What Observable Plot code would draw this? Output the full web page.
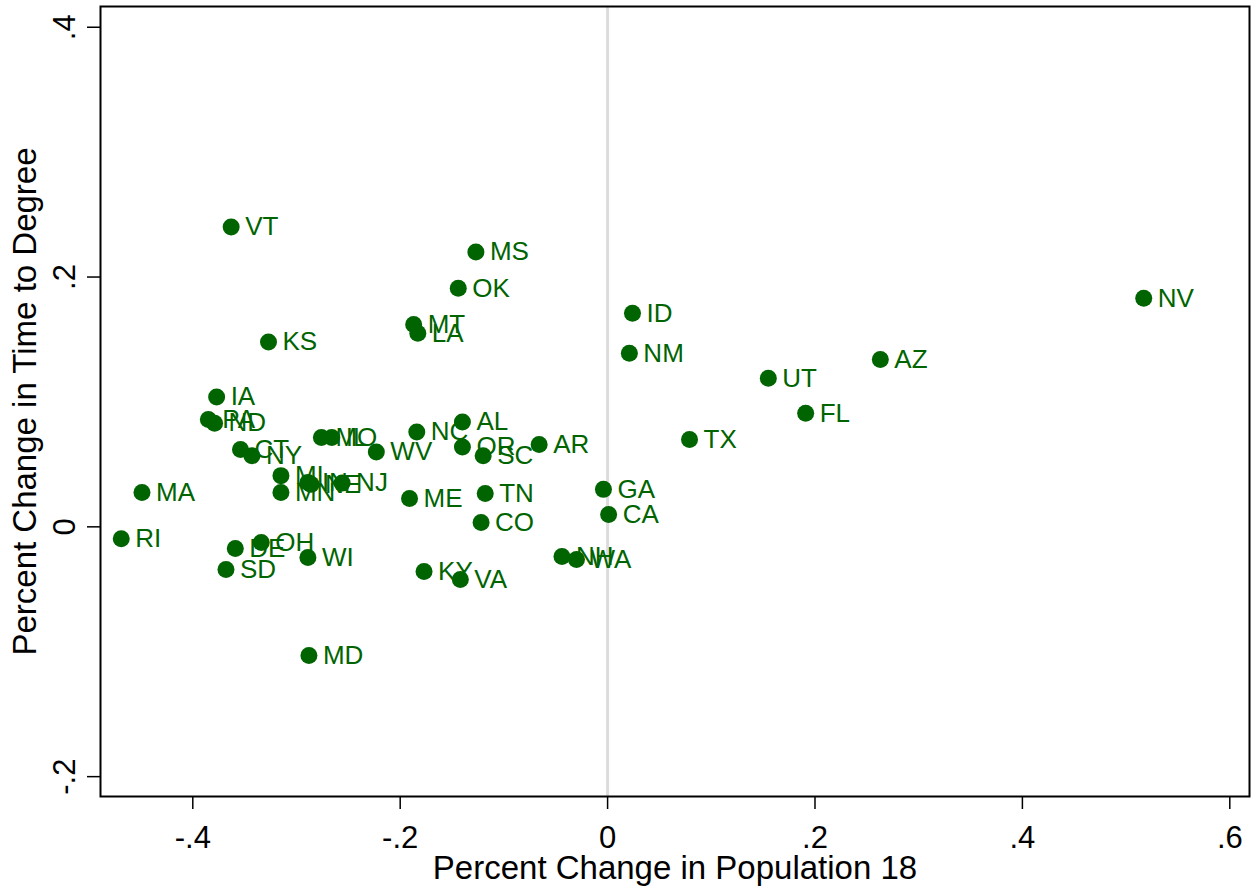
<!DOCTYPE html>
<html>
<head>
<meta charset="utf-8">
<script src="https://cdn.jsdelivr.net/npm/d3@7"></script>
<script src="https://cdn.jsdelivr.net/npm/@observablehq/plot@0.6"></script>
<style>
  html, body { margin: 0; padding: 0; background: #fff; }
  #chart svg { display: block; }
</style>
</head>
<body>
<div id="chart"></div>
<script>
const states = ["VT","MS","OK","MT","LA","KS","ID","NM","NV","AZ","UT","FL","TX","AR","AL","NC","OR","SC","IA","PA","ND","CT","NY","MO","IL","WV","MI","MN","IN","NE","NJ","MA","RI","DE","OH","SD","WI","MD","KY","VA","ME","TN","CO","GA","CA","NH","WA"];
const popChange = [-0.363,-0.127,-0.144,-0.187,-0.183,-0.327,0.024,0.021,0.517,0.263,0.155,0.191,0.079,-0.066,-0.140,-0.184,-0.140,-0.120,-0.377,-0.385,-0.379,-0.354,-0.343,-0.276,-0.266,-0.223,-0.315,-0.315,-0.289,-0.286,-0.256,-0.449,-0.469,-0.359,-0.334,-0.368,-0.289,-0.288,-0.177,-0.142,-0.191,-0.118,-0.122,-0.004,0.001,-0.044,-0.030];
const ttdChange = [0.240,0.220,0.191,0.162,0.155,0.148,0.171,0.139,0.183,0.134,0.119,0.091,0.070,0.066,0.084,0.076,0.064,0.057,0.104,0.086,0.083,0.062,0.057,0.0715,0.0715,0.060,0.041,0.0275,0.0355,0.034,0.035,0.0275,-0.0095,-0.0174,-0.0126,-0.0342,-0.0245,-0.103,-0.0358,-0.0422,0.0227,0.0267,0.0034,0.030,0.0098,-0.0238,-0.0262];
const xTicks = [-0.4, -0.2, 0, 0.2, 0.4, 0.6];
const yTicks = [-0.2, 0, 0.2, 0.4];
const xTitle = "Percent Change in Population 18";
const yTitle = "Percent Change in Time to Degree";

const data = states.map((s, i) => ({state: s, x: popChange[i], y: ttdChange[i]}));
const fmt = d => d === 0 ? "0" : String(d).replace("0.", ".");
const green = "#006400";

const chart = Plot.plot({
  width: 1257,
  height: 890,
  marginLeft: 100,
  marginRight: 8,
  marginTop: 6,
  marginBottom: 94,
  style: {fontFamily: "'Liberation Sans', Arial, sans-serif", background: "#fff", color: "#000"},
  x: {domain: [-0.489, 0.619]},
  y: {domain: [-0.2159, 0.4166]},
  marks: [
    Plot.ruleX([0], {stroke: "#dcdcdc", strokeWidth: 3}),
    Plot.axisX({ticks: xTicks, tickFormat: fmt, tickSize: 13, tickPadding: 16, fontSize: 31, label: null, stroke: "#000", strokeWidth: 1.5}),
    Plot.axisY({ticks: yTicks, tickFormat: fmt, tickSize: 13, tickPadding: 13, tickRotate: -90, fontSize: 31, label: null, stroke: "#000", strokeWidth: 1.5}),
    Plot.text([xTitle], {frameAnchor: "bottom", dy: 72, fontSize: 33, textAnchor: "middle", lineAnchor: "middle", fill: "#000"}),
    Plot.text([yTitle], {frameAnchor: "left", dx: -75, rotate: -90, fontSize: 33, textAnchor: "middle", lineAnchor: "middle", fill: "#000"}),
    Plot.text(data, {x: "x", y: "y", text: "state", dx: 14, textAnchor: "start", lineAnchor: "middle", fontSize: 26, fill: green}),
    Plot.dot(data, {x: "x", y: "y", r: 8.5, fill: green, stroke: "none"}),
    Plot.frame({stroke: "#000", strokeWidth: 2})
  ]
});
document.getElementById("chart").appendChild(chart);
</script>
</body>
</html>
